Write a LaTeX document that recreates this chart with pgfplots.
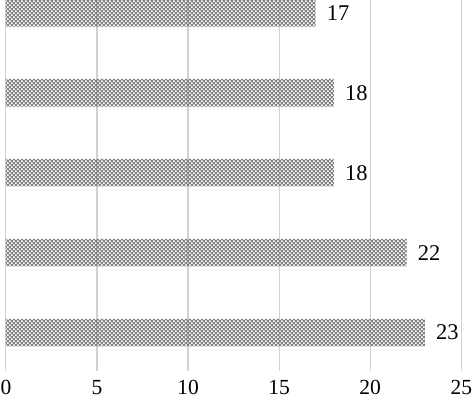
\documentclass[border=0pt]{standalone}
\usepackage{pgfplots}
\pgfplotsset{compat=1.18}
\usepackage{fontspec}
\setmainfont{Liberation Serif}
\usetikzlibrary{patterns}
\pgfdeclarepatternformonly{diam}{\pgfpointorigin}{\pgfpoint{4.4bp}{4.4bp}}{\pgfpoint{4.4bp}{4.4bp}}{%
  \pgfsetlinewidth{1.2bp}%
  \pgfpathmoveto{\pgfpoint{0bp}{0bp}}\pgfpathlineto{\pgfpoint{4.4bp}{4.4bp}}%
  \pgfpathmoveto{\pgfpoint{0bp}{4.4bp}}\pgfpathlineto{\pgfpoint{4.4bp}{0bp}}%
  \pgfusepath{stroke}}
\begin{document}
\begin{tikzpicture}
\begin{axis}[
  at={(0,0)}, anchor=south west,
  scale only axis,
  width=464bp, height=378bp,
  xbar,
  xmin=0, xmax=25,
  ymin=0.52, ymax=5.16,
  bar width=0.345,
  xtick={0,5,10,15,20,25},
  ytick=\empty,
  axis line style={draw=none},
  major tick length=0pt,
  xmajorgrids,
  grid style={draw=black!18, line width=1.2bp},
  /pgf/number format/assume math mode=true,
  xticklabel style={font=\fontsize{22}{26}\selectfont, yshift=-6bp},
  nodes near coords,
  nodes near coords style={font=\fontsize{23}{27}\selectfont, xshift=8bp, black},
]
\addplot[draw=none, pattern=diam, pattern color=black!52] coordinates {
  (23,1) (22,2) (18,3) (18,4) (17,5)
};
\end{axis}
\pgfresetboundingbox
\useasboundingbox (-6bp,-30bp) rectangle (479bp,378bp);
\end{tikzpicture}
\end{document}
